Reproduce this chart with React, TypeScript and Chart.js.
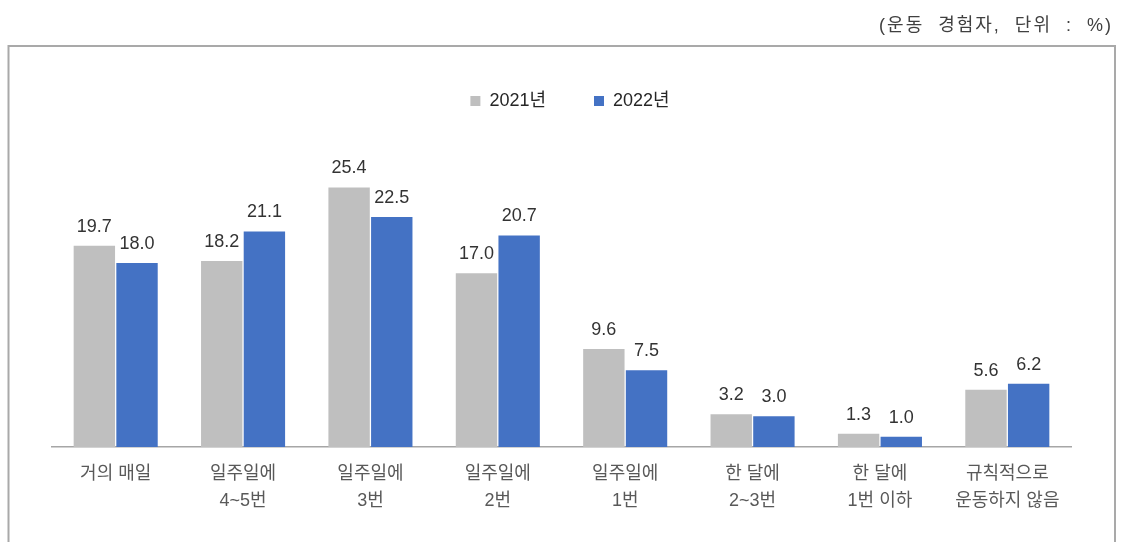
import React, { useEffect, useRef } from "react";
import { Chart, registerables } from "chart.js";

Chart.register(...registerables);

const categories: string[][] = [
  ["거의 매일"],
  ["일주일에", "4~5번"],
  ["일주일에", "3번"],
  ["일주일에", "2번"],
  ["일주일에", "1번"],
  ["한 달에", "2~3번"],
  ["한 달에", "1번 이하"],
  ["규칙적으로", "운동하지 않음"],
];
const values2021: number[] = [19.7, 18.2, 25.4, 17.0, 9.6, 3.2, 1.3, 5.6];
const values2022: number[] = [18.0, 21.1, 22.5, 20.7, 7.5, 3.0, 1.0, 6.2];
const seriesNames: string[] = ["2021년", "2022년"];
const unitText = "(운동 경험자, 단위 : %)";

const FONT = '"Liberation Sans", "Noto Sans CJK KR", Arial, sans-serif';

const frameBox = {
  id: "frameBox",
  beforeDraw(chart: any) {
    const ctx = chart.ctx;
    ctx.save();
    ctx.strokeStyle = "#a9a9a9";
    ctx.lineWidth = 2;
    ctx.strokeRect(8.5, 46, 1106.5, 540);
    ctx.restore();
  },
};

const valueLabels = {
  id: "valueLabels",
  afterDatasetsDraw(chart: any) {
    const ctx = chart.ctx;
    ctx.save();
    ctx.font = `18px ${FONT}`;
    ctx.fillStyle = "#333333";
    ctx.textAlign = "center";
    ctx.textBaseline = "alphabetic";
    chart.data.datasets.forEach((ds: any, di: number) => {
      const meta = chart.getDatasetMeta(di);
      meta.data.forEach((bar: any, i: number) => {
        const v = ds.data[i] as number;
        ctx.fillText(v.toFixed(1), bar.x, bar.y - 14);
      });
    });
    ctx.restore();
  },
};

export default function App() {
  const ref = useRef<HTMLCanvasElement | null>(null);

  useEffect(() => {
    if (!ref.current) return;
    const chart = new Chart(ref.current, {
      type: "bar",
      data: {
        labels: categories,
        datasets: [
          {
            label: seriesNames[0],
            data: values2021,
            backgroundColor: "#BFBFBF",
            categoryPercentage: 0.67,
            barPercentage: 0.97,
          },
          {
            label: seriesNames[1],
            data: values2022,
            backgroundColor: "#4472C4",
            categoryPercentage: 0.67,
            barPercentage: 0.97,
          },
        ],
      },
      options: {
        responsive: false,
        animation: false,
        layout: { padding: { left: 26, right: 10, top: 44, bottom: 0 } },
        plugins: {
          title: { display: false },
          legend: {
            display: true,
            position: "top",
            labels: {
              boxWidth: 10,
              boxHeight: 10,
              padding: 48,
              color: "#262626",
              font: { family: FONT, size: 18 },
            },
          },
          tooltip: { enabled: false },
        },
        scales: {
          x: {
            grid: { display: false, drawTicks: false },
            border: { display: true, color: "#a6a6a6", width: 1.5 },
            ticks: {
              color: "#595959",
              font: { family: FONT, size: 18, lineHeight: 1.5 },
              padding: 14,
              autoSkip: false,
              maxRotation: 0,
              minRotation: 0,
            },
            afterFit: (s: any) => {
              s.height = 95;
            },
          },
          y: {
            type: "linear",
            display: true,
            min: 0,
            max: 32,
            ticks: { display: false },
            grid: { display: false, drawTicks: false },
            border: { display: false },
            afterFit: (s: any) => {
              s.width = 26;
            },
          },
          y2: {
            type: "linear",
            position: "right",
            display: true,
            min: 0,
            max: 32,
            ticks: { display: false },
            grid: { display: false, drawTicks: false },
            border: { display: false },
            afterFit: (s: any) => {
              s.width = 43;
            },
          },
        },
      },
      plugins: [frameBox, valueLabels],
    });
    return () => chart.destroy();
  }, []);

  return (
    <div style={{ position: "absolute", left: 0, top: 0, width: 1124, height: 542, background: "#fff" }}>
      <canvas ref={ref} width={1124} height={542} style={{ display: "block" }} />
      <div
        style={{
          position: "absolute",
          right: 11,
          top: 15,
          lineHeight: "20px",
          fontFamily: FONT,
          fontSize: 18,
          color: "#404040",
          letterSpacing: "2px",
          wordSpacing: "7px",
          whiteSpace: "nowrap",
        }}
      >
        {unitText}
      </div>
    </div>
  );
}
